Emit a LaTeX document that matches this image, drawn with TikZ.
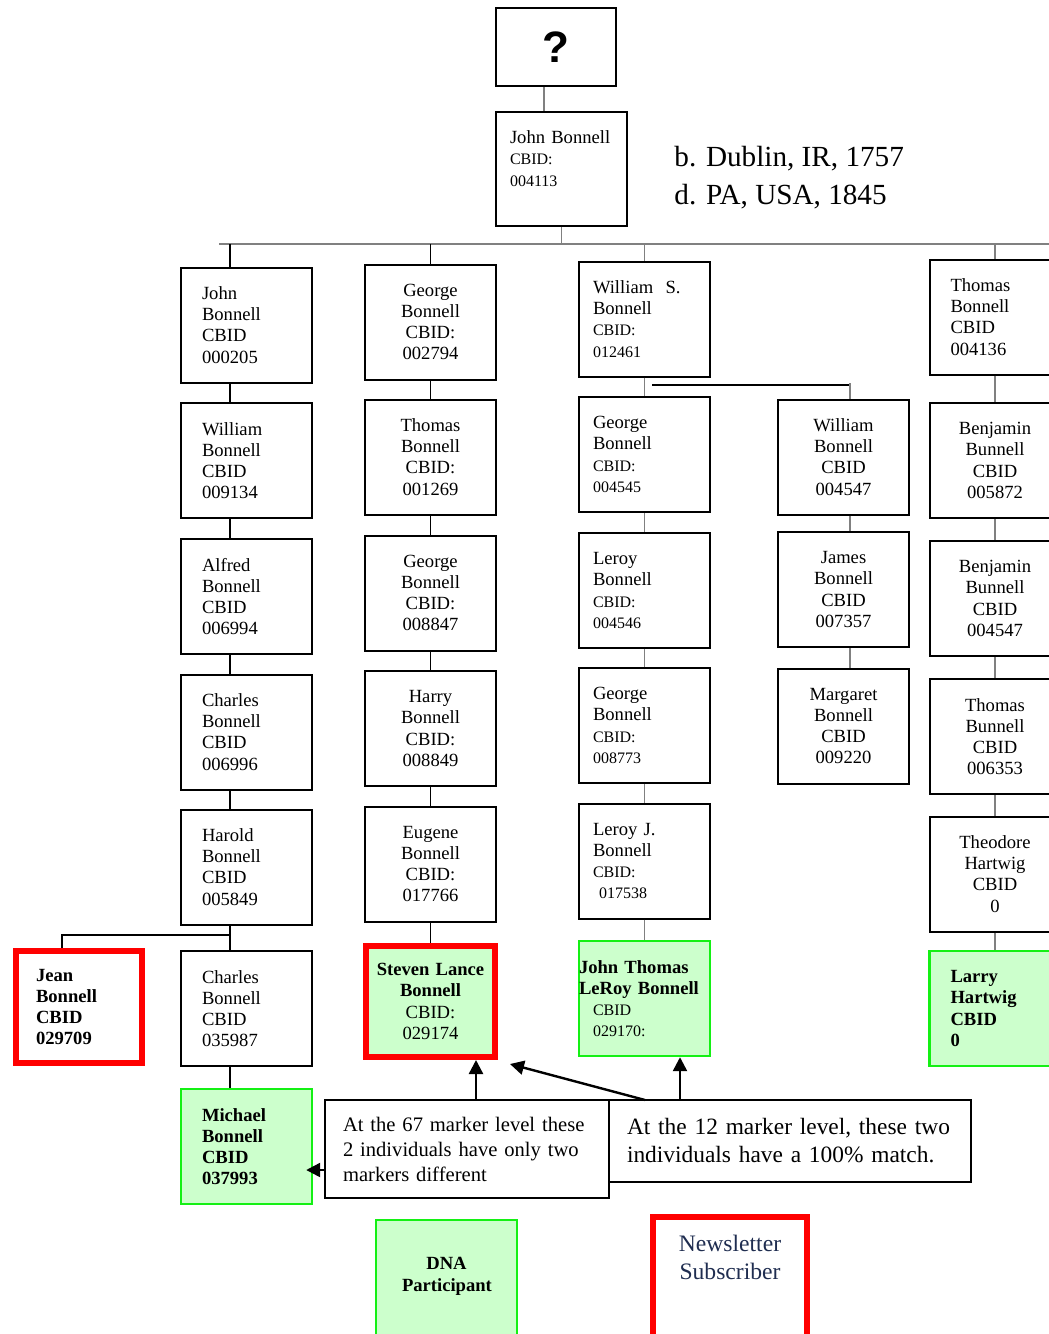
\documentclass[tikz,border=0pt]{standalone}
\usepackage{fontspec}
\setmainfont{Liberation Serif}
\newfontfamily\qfont{Liberation Sans}
\usetikzlibrary{arrows.meta}

\definecolor{dnagreen}{RGB}{204,255,204}
\definecolor{dnaline}{RGB}{20,240,20}
\definecolor{newsred}{RGB}{255,0,0}
\definecolor{newsblue}{RGB}{31,45,80}
\newcommand\boxfont{\fontsize{9.3}{10.6}\selectfont}
\newcommand\idfont{\fontsize{8}{10.6}\selectfont}

\begin{document}
\begin{tikzpicture}[x=0.5pt, y=-0.5pt,
  pbox/.style={draw, line width=1pt, minimum width=65.5pt, minimum height=57.5pt,
    inner xsep=10.5pt, inner ysep=0pt, text width=44.5pt, align=left, font=\boxfont},
  pmid/.style={pbox, align=center},
  pnarrow/.style={pbox, inner xsep=7pt, text width=51.5pt},
  dna/.style={fill=dnagreen, draw=dnaline, line width=1.2pt},
  news/.style={draw=newsred, line width=2.8pt},
  link/.style={gray, line width=0.8pt},
  blink/.style={black, line width=0.8pt},
  arr/.style={line width=1.2pt, -{Triangle[length=7pt,width=7pt]}},
  note/.style={draw, line width=1pt, align=left, inner ysep=0pt}]
\useasboundingbox (0,0) rectangle (1049,1334);
\clip (0,0) rectangle (1049,1334);

%%%%%%%%%%%%%%%%%%%%%%%%%%%%
\node[draw, line width=1pt, minimum width=60pt, minimum height=39pt,
  font=\qfont\bfseries\fontsize{22}{22}\selectfont] (q) at (556,47) {?};
\node[pnarrow, minimum height=57pt] (jb) at (561.5,169)
  {John Bonnell\\{\idfont CBID:}\\{\idfont 004113}\\\mbox{}};
\node[anchor=west, align=left, inner sep=0pt, font=\fontsize{14.6}{19}\selectfont] (born)
  at (674,178) {b. Dublin, IR, 1757\\d. PA, USA, 1845};

\coordinate (qx) at (544,0);
\coordinate (barL) at (219,244);
\coordinate (barR) at (1060,244);
\draw[link] (q.south -| qx) -- (jb.north -| qx);
\draw[link] (barL) -- (barR);
\draw[link] (jb.south) -- (jb.south |- barL);

%%%%%%%%%%%%%%%%%%%%%%%%%%%%
% first column
\node[pbox] (john) at (246.5,325) {John\\Bonnell\\CBID\\000205};
\node[pbox] (william) at (246.5,460.5) {William\\Bonnell\\CBID\\009134};
\node[pbox] (alfred) at (246.5,596.5) {Alfred\\Bonnell\\CBID\\006994};
\node[pbox] (charles) at (246.5,732) {Charles\\Bonnell\\CBID\\006996};
\node[pbox] (harold) at (246.5,867) {Harold\\Bonnell\\CBID\\005849};
\node[pbox] (charlesb) at (246.5,1008.5) {Charles\\Bonnell\\CBID\\035987};
\node[pbox, dna, font=\boxfont\bfseries] (michael) at (246.5,1146.5)
  {Michael\\Bonnell\\CBID\\037993};
\node[pbox, news, minimum width=63.2pt, minimum height=56.2pt, inner xsep=10pt,
  text width=43pt, font=\boxfont\bfseries] (jean) at (79,1007)
  {Jean\\Bonnell\\CBID\\029709};

\coordinate (cx1) at (230,0);
\coordinate (jx) at (62,0);
\coordinate (fork) at (230,935);
\draw[blink] (john.north -| cx1) -- (barL -| cx1);
\foreach \a/\b in {john/william, william/alfred, alfred/charles, charles/harold,
  harold/charlesb, charlesb/michael}
  \draw[blink] (\a.south -| cx1) -- (\b.north -| cx1);
\draw[blink] (fork) -| (jean.north -| jx);

%%%%%%%%%%%%%%%%%%%%%%%%%%%%
% second column
\node[pmid] (george) at (430.5,322) {George\\Bonnell\\CBID:\\002794};
\node[pmid] (thomas) at (430.5,457) {Thomas\\Bonnell\\CBID:\\001269};
\node[pmid] (georgeb) at (430.5,593) {George\\Bonnell\\CBID:\\008847};
\node[pmid] (harry) at (430.5,728.5) {Harry\\Bonnell\\CBID:\\008849};
\node[pmid] (eugene) at (430.5,864) {Eugene\\Bonnell\\CBID:\\017766};
\node[pmid, news, fill=dnagreen, minimum width=64.7pt, minimum height=55.7pt,
  inner xsep=3pt, text width=58pt] (steven) at (430.5,1001.5)
  {\textbf{Steven Lance}\\\textbf{Bonnell}\\CBID:\\029174};

\draw[blink] (george.north) -- (george.north |- barL);
\foreach \a/\b in {george/thomas, thomas/georgeb, georgeb/harry, harry/eugene,
  eugene/steven}
  \draw[blink] (\a.south) -- (\b.north);

%%%%%%%%%%%%%%%%%%%%%%%%%%%%
% third column
\node[pnarrow] (wills) at (644.5,319)
  {William~ S.\\Bonnell\\{\idfont CBID:}\\{\idfont 012461}};
\node[pnarrow] (georgec) at (644.5,454.5)
  {George\\Bonnell\\{\idfont CBID:}\\{\idfont 004545}};
\node[pnarrow] (leroy) at (644.5,590.5)
  {Leroy\\Bonnell\\{\idfont CBID:}\\{\idfont 004546}};
\node[pnarrow] (georged) at (644.5,725.5)
  {George\\Bonnell\\{\idfont CBID:}\\{\idfont 008773}};
\node[pnarrow] (leroyj) at (644.5,861)
  {Leroy J.\\Bonnell\\{\idfont CBID:}\\{\idfont\ 017538}};
\node[pbox, dna, inner xsep=0pt, text width=65.5pt] (jtl) at (644.5,998.5)
  {\textbf{John Thomas}\\\textbf{LeRoy Bonnell}\\
   {\idfont\hspace*{7pt}CBID}\\{\idfont\hspace*{7pt}029170:}};

\draw[link] (wills.north) -- (wills.north |- barL);
\foreach \a/\b in {wills/georgec, georgec/leroy, leroy/georged, georged/leroyj,
  leroyj/jtl}
  \draw[link] (\a.south) -- (\b.north);

%%%%%%%%%%%%%%%%%%%%%%%%%%%%
% fourth column
\node[pmid] (williamb) at (843.5,457) {William\\Bonnell\\CBID\\004547};
\node[pmid] (james) at (843.5,589.5) {James\\Bonnell\\CBID\\007357};
\node[pmid] (margaret) at (843.5,726) {Margaret\\Bonnell\\CBID\\009220};

\coordinate (cx4) at (850,0);
\coordinate (split) at (652,385);
\draw[blink] (split) -- (split -| cx4);
\draw[link] ([yshift=1pt]split -| cx4) -- (williamb.north -| cx4);
\foreach \a/\b in {williamb/james, james/margaret}
  \draw[link] (\a.south -| cx4) -- (\b.north -| cx4);

%%%%%%%%%%%%%%%%%%%%%%%%%%%%
% fifth column
\node[pbox] (thomasb) at (995,317) {Thomas\\Bonnell\\CBID\\004136};
\node[pmid] (benj) at (995,460.5) {Benjamin\\Bunnell\\CBID\\005872};
\node[pmid] (benjb) at (995,598.5) {Benjamin\\Bunnell\\CBID\\004547};
\node[pmid] (thomasc) at (995,736.5) {Thomas\\Bunnell\\CBID\\006353};
\node[pmid] (theodore) at (995,874) {Theodore\\Hartwig\\CBID\\0};
\node[pbox, dna, font=\boxfont\bfseries] (larry) at (995,1008.5)
  {Larry\\Hartwig\\CBID\\0};

\draw[link] (thomasb.north) -- (thomasb.north |- barL);
\foreach \a/\b in {thomasb/benj, benj/benjb, benjb/thomasc, thomasc/theodore,
  theodore/larry}
  \draw[link] (\a.south) -- (\b.north);

%%%%%%%%%%%%%%%%%%%%%%%%%%%%
% notes
\node[note, minimum width=142pt, minimum height=49pt, inner xsep=9pt,
  text width=124pt, font=\fontsize{10.3}{12.5}\selectfont] (note67) at (467,1149)
  {At the 67 marker level these\\2 individuals have only two\\markers different};
\node[note, minimum width=181pt, minimum height=41pt, inner xsep=9pt,
  text width=163pt, font=\fontsize{11.7}{14}\selectfont] (note12) at (790,1141)
  {At the 12 marker level, these two\\individuals have a 100\% match.};

\coordinate (a67) at (476,0);
\coordinate (a12) at (645,1100);
\coordinate (a12b) at (680,0);
\coordinate (a67b) at (0,1170);
\draw[arr] (note67.north -| a67) -- (steven.south -| a67);
\draw[arr] (a12) -- ([shift={(12,4)}]steven.south east);
\draw[arr] (note12.north -| a12b) -- (jtl.south -| a12b);
\draw[arr, shorten >=-3.5pt] (note67.west |- a67b) -- (michael.east |- a67b);

%%%%%%%%%%%%%%%%%%%%%%%%%%%%
% legend
\node[pmid, dna, minimum width=70.5pt, minimum height=65pt, font=\boxfont\bfseries]
  (dnap) at (446.5,1285) {DNA\\Participant\\\mbox{}};
\node[news, minimum width=77.2pt, minimum height=66.6pt, align=center,
  text=newsblue, font=\fontsize{11.8}{14}\selectfont] (newsl) at (730,1283.4)
  {Newsletter\\Subscriber\\[12pt]\mbox{}};
\end{tikzpicture}
\end{document}
